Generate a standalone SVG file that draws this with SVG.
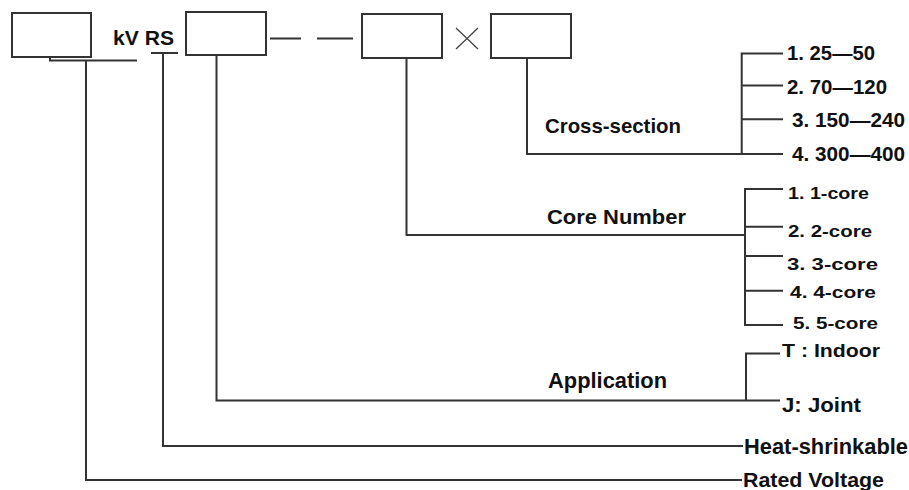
<svg xmlns="http://www.w3.org/2000/svg" width="909" height="490" viewBox="0 0 909 490">
<style>
.box{fill:#fff;stroke:#333;stroke-width:2}
.ln{fill:none;stroke:#333;stroke-width:2}
.thin{fill:none;stroke:#444;stroke-width:1.3}
text{font-family:"Liberation Sans",Arial,sans-serif;font-weight:bold;fill:#111}
</style>
<rect width="909" height="490" fill="#fff"/>
<g id="box-voltage"><rect class="box" x="12" y="13" width="79" height="44"/></g>
<g id="label-kvrs"><text x="113" y="45" font-size="20.5" textLength="61" lengthAdjust="spacingAndGlyphs">kV RS</text></g>
<g id="box-application"><rect class="box" x="186" y="12" width="80" height="43"/></g>
<g id="dashes"><path class="ln" d="M270,38.5H301M317,38.5H353"/></g>
<g id="box-core"><rect class="box" x="362" y="14" width="80" height="44"/></g>
<g id="times"><path class="thin" d="M456,28L478,49M456,49L478,28"/></g>
<g id="box-section"><rect class="box" x="491" y="14" width="80" height="44"/></g>
<g id="connectors">
<path class="ln" d="M50,57V60.5H137"/>
<path class="ln" d="M86,60.5V480H742"/>
<path class="ln" d="M151,53H178M163,53V446H743"/>
<path class="ln" d="M216.5,55V400.5H780M780,353.5H746V400.5"/>
<path class="ln" d="M406.5,58V235H745M783,189H745V325H783M745,226.7H783M745,256H783M745,290.7H783"/>
<path class="ln" d="M527,58V154H783M783,53.5H741.7V154M741.7,85.5H783M741.7,119.3H783"/>
</g>
<g id="section-labels">
<text x="545" y="133.3" font-size="20.5" textLength="136" lengthAdjust="spacingAndGlyphs">Cross-section</text>
<text x="787" y="60" font-size="21" textLength="88" lengthAdjust="spacingAndGlyphs">1. 25—50</text>
<text x="787" y="93.5" font-size="21" textLength="100" lengthAdjust="spacingAndGlyphs">2. 70—120</text>
<text x="792" y="127" font-size="21" textLength="113" lengthAdjust="spacingAndGlyphs">3. 150—240</text>
<text x="792" y="161" font-size="21" textLength="113" lengthAdjust="spacingAndGlyphs">4. 300—400</text>
</g>
<g id="core-labels">
<text x="547" y="224" font-size="19.5" textLength="139" lengthAdjust="spacingAndGlyphs">Core Number</text>
<text x="788" y="199" font-size="17" textLength="81" lengthAdjust="spacingAndGlyphs">1. 1-core</text>
<text x="788" y="236.7" font-size="17" textLength="84" lengthAdjust="spacingAndGlyphs">2. 2-core</text>
<text x="787" y="270" font-size="17" textLength="91" lengthAdjust="spacingAndGlyphs">3. 3-core</text>
<text x="790" y="297.7" font-size="17" textLength="86" lengthAdjust="spacingAndGlyphs">4. 4-core</text>
<text x="793" y="329" font-size="17" textLength="85" lengthAdjust="spacingAndGlyphs">5. 5-core</text>
</g>
<g id="application-labels">
<text x="548" y="388" font-size="22" textLength="119" lengthAdjust="spacingAndGlyphs">Application</text>
<text x="782" y="356.7" font-size="19" textLength="98" lengthAdjust="spacingAndGlyphs">T : Indoor</text>
<text x="782" y="411.7" font-size="20" textLength="79" lengthAdjust="spacingAndGlyphs">J: Joint</text>
</g>
<g id="heat-label"><text x="744" y="454" font-size="22" textLength="164" lengthAdjust="spacingAndGlyphs">Heat-shrinkable</text></g>
<g id="voltage-label"><text x="743" y="487" font-size="20" textLength="141" lengthAdjust="spacingAndGlyphs">Rated Voltage</text></g>
</svg>
